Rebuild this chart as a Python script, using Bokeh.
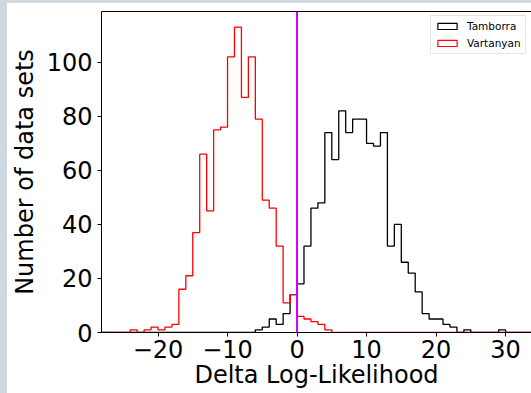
from bokeh.plotting import figure
from bokeh.layouts import column, row
from bokeh.models import (Span, Legend, LegendItem, LinearAxis, FixedTicker,
                          Range1d, Spacer)
from bokeh.embed import file_html
from bokeh.resources import INLINE

# ---- data ----
x_label = "Delta Log-Likelihood"
y_label = "Number of data sets"
bin_width = 1
hist_range = (-29, 35)

tamborra_label = "Tamborra"
tamborra_first_edge = -6
tamborra_counts = [1, 2, 5, 3, 7, 14, 18, 32, 46, 48, 74, 64, 82, 74, 79, 79,
                   70, 69, 74, 32, 40, 26, 22, 15, 7, 5, 5, 3, 2, 0, 1, 0, 0,
                   0, 0, 1]

vartanyan_label = "Vartanyan"
vartanyan_first_edge = -24
vartanyan_counts = [1, 0, 1, 2, 1, 2, 3, 16, 21, 37, 66, 45, 75, 76, 102, 113,
                    87, 102, 79, 49, 46, 32, 11, 14, 6, 5, 4, 3, 1]

threshold = 0
x_ticks = [-20, -10, 0, 10, 20, 30]
y_ticks = [0, 20, 40, 60, 80, 100]
x_limits = (-28.13, 33.73)
y_limits = (0, 118.8)

FONT = "DejaVu Sans"
PAGE_BG = "#cfd8df"


def step_path(first_edge, counts):
    xs = [hist_range[0], first_edge]
    ys = [0, 0]
    for i, c in enumerate(counts):
        left = first_edge + i * bin_width
        xs += [left, left + bin_width]
        ys += [c, c]
    last = first_edge + len(counts) * bin_width
    xs += [last, hist_range[1]]
    ys += [0, 0]
    return xs, ys


def bars(first_edge, counts):
    lefts = [first_edge + i * bin_width for i in range(len(counts))]
    rights = [l + bin_width for l in lefts]
    return lefts, rights, list(counts)


p = figure(width=524, height=390, output_backend="svg", toolbar_location=None,
           x_range=Range1d(*x_limits), y_range=Range1d(*y_limits),
           min_border_left=93, min_border_right=0, min_border_top=8,
           min_border_bottom=61)
p.grid.visible = False
p.outline_line_color = None
p.background_fill_color = "white"
p.border_fill_color = "white"

for ax in (p.xaxis[0], p.yaxis[0]):
    ax.axis_line_color = "black"
    ax.axis_line_width = 1
    ax.major_tick_out = 4
    ax.major_tick_in = 0
    ax.major_tick_line_color = "black"
    ax.minor_tick_line_color = None
    ax.major_label_text_font = FONT
    ax.major_label_text_font_size = "24px"
    ax.major_label_text_color = "black"
    ax.axis_label_text_font = FONT
    ax.axis_label_text_font_size = "24px"
    ax.axis_label_text_font_style = "normal"
    ax.axis_label_text_color = "black"

p.xaxis[0].ticker = FixedTicker(ticks=x_ticks)
p.xaxis[0].major_label_overrides = {t: str(t).replace("-", "\u2212") for t in x_ticks}
p.xaxis[0].axis_label = x_label
p.xaxis[0].major_label_standoff = 3
p.xaxis[0].axis_label_standoff = 0

p.yaxis[0].ticker = FixedTicker(ticks=y_ticks)
p.yaxis[0].axis_label = y_label
p.yaxis[0].major_label_standoff = 5
p.yaxis[0].axis_label_standoff = 5

top_axis = LinearAxis(ticker=FixedTicker(ticks=[]), axis_line_color="black",
                      axis_line_width=1, major_tick_out=0, major_tick_in=0,
                      minor_tick_out=0, major_label_standoff=0)
p.add_layout(top_axis, "above")

xs_t, ys_t = step_path(tamborra_first_edge, tamborra_counts)
xs_v, ys_v = step_path(vartanyan_first_edge, vartanyan_counts)
p.line(xs_t, ys_t, line_color="black", line_width=1.3)
p.line(xs_v, ys_v, line_color="red", line_width=1.3)

p.add_layout(Span(location=threshold, dimension="height",
                  line_color="#cc00ff", line_width=2))

# legend proxies (hidden bar renderers, so the legend shows outlined boxes)
lt, rt, tt = bars(tamborra_first_edge, tamborra_counts)
lv, rv, tv = bars(vartanyan_first_edge, vartanyan_counts)
leg_t = p.quad(left=lt, right=rt, top=tt, bottom=0, fill_color=None,
               line_color="black", line_width=1.2, visible=False)
leg_v = p.quad(left=lv, right=rv, top=tv, bottom=0, fill_color=None,
               line_color="red", line_width=1.2, visible=False)

legend = Legend(items=[LegendItem(label=tamborra_label, renderers=[leg_t]),
                       LegendItem(label=vartanyan_label, renderers=[leg_v])],
                location=(329, 278), margin=0, padding=4, spacing=5,
                glyph_width=24, glyph_height=8, label_height=12,
                label_standoff=8, label_text_font=FONT,
                label_text_font_size="10.5px", label_text_color="black",
                border_line_color="#cccccc", border_line_width=1,
                background_fill_color="white", background_fill_alpha=0.8,
                click_policy="none")
p.add_layout(legend)

top_band = Spacer(width=531, height=3, styles={"background-color": PAGE_BG})
left_band = Spacer(width=7, height=390, styles={"background-color": PAGE_BG})
layout = column(top_band, row(left_band, p, spacing=0), spacing=0)

open("out.html", "w").write(file_html(layout, INLINE))
